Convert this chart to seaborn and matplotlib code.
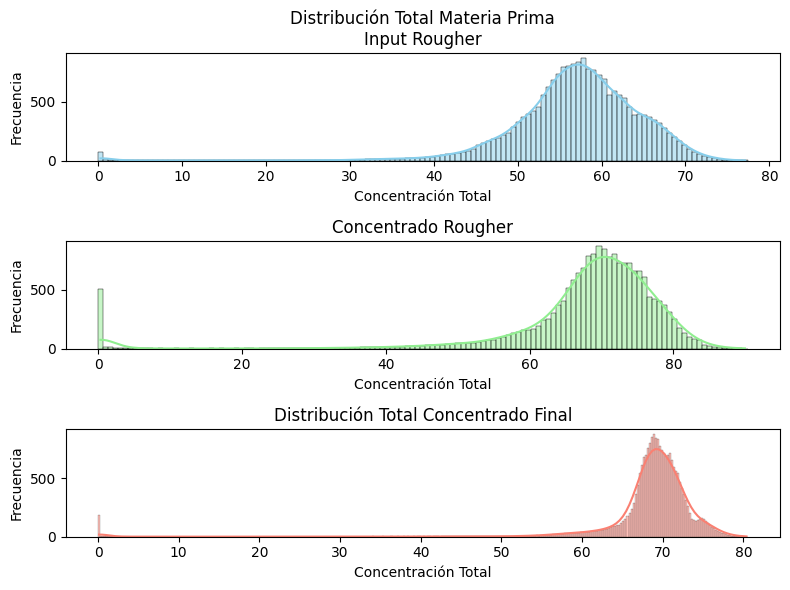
import numpy as np
import pandas as pd
import matplotlib
matplotlib.use("Agg")
import matplotlib.pyplot as plt
import seaborn as sns

# --- DATA (bin counts) ---
# Materia prima (input rougher): bins of 0.6 starting at 0
mp_start, mp_width = 0.0, 0.6
mp_counts = [
    70, 14, 6, 4, 3,
    3, 2, 2, 1, 2, 1, 1, 2, 1, 1, 2, 1, 1, 1, 2, 1, 1, 2, 1, 1,
    1, 2, 1, 2, 1, 1, 2, 1, 2, 1, 2, 2, 1, 2, 3, 2, 2, 3, 2, 3,
    3, 4, 3, 4, 5,
    7, 9, 8, 11, 10, 13, 12, 15, 14, 17, 16, 20, 19, 23, 25, 28, 32,
    38, 45, 52, 58, 65, 72, 85, 98, 130, 150, 170, 185,
    195, 215, 235, 290, 330, 370, 395, 420, 455, 560, 630, 690, 740, 795,
    810, 825, 840, 870, 780, 770, 730,
    697, 560, 590, 560, 530, 460, 385, 395, 385, 370, 350, 320, 280, 235,
    200, 165, 130, 100, 75, 55, 42, 30, 22, 14, 9, 5, 3, 2, 1,
]

# Concentrado rougher: bins of 0.7 starting at 0
cr_start, cr_width = 0.0, 0.7
cr_counts = [
    508, 15, 10, 8, 6,
    4, 3, 3, 2, 2, 2, 1, 2, 1, 1, 2, 1, 1, 2, 1, 1, 1, 2, 1, 2,
    1, 1, 2, 1, 2, 2, 1, 2, 2, 3, 2, 3, 2, 3, 3, 4,
    4, 5, 4, 5, 6, 5, 7, 6, 8, 8, 9, 10, 11, 10, 12, 13, 14, 15, 17, 18,
    20, 21, 23, 25, 27, 29, 32, 35, 38, 42,
    45, 45, 50, 50, 55, 62, 70, 78, 90, 100,
    115, 130, 140, 155, 160, 165, 195, 245, 250, 305,
    375, 405, 515, 585, 645, 685, 790, 805, 872, 853,
    782, 804, 730, 726, 726, 665, 660, 612, 440, 420,
    410, 375, 316, 250, 175, 130, 96, 85, 70, 30,
    22, 16, 12, 8, 5, 3, 2, 1,
]

# Concentrado final: bins of 0.25 starting at 0
cf_start, cf_width = 0.0, 0.25
cf_counts = [
    185, 10, 6, 4, 3, 2, 2, 2,
    1, 1, 0, 1, 1, 1, 0, 1, 1, 0, 1, 1, 1, 0, 1, 1, 0, 1, 1, 1, 0, 1, 1, 0,
    1, 0, 1, 1, 0, 1, 0, 1, 1, 0, 1, 0, 1, 1, 0, 1, 0, 0, 1, 1, 0, 1, 0, 1,
    0, 1, 0, 1, 1, 0, 0, 1, 0, 1, 0, 1, 1, 0, 0, 1, 0, 1, 0, 0, 1, 0, 1, 1,
    0, 1, 0, 1, 0, 1, 1, 0, 1, 0, 1, 1, 0, 1, 0, 1, 1, 0, 1, 1, 0, 1, 1, 0,
    1, 1, 0, 1, 1, 1, 0, 1, 1, 1, 0, 1, 1, 1, 1, 0, 1, 1, 1, 1, 0, 1, 1, 1,
    1, 1, 1, 0, 1, 1, 1, 1, 2, 1, 1, 1, 1, 2, 1, 1, 1, 2, 1, 1, 2, 1, 1, 2,
    1, 2, 1, 1, 2, 1, 2, 2, 1, 2, 1, 2, 2, 1, 2, 2, 2, 1, 2, 2, 2, 2, 3, 2,
    2, 2, 3, 2, 2, 3, 2, 3, 3, 2, 3, 3, 2, 3, 3, 3, 2, 3, 3, 3, 3, 4, 3, 3,
    3, 3, 4, 3, 4, 5, 4, 5, 6, 5, 7, 6, 8, 7, 9, 8, 10, 11, 10, 12,
    13, 14, 15, 16, 18, 19, 21, 22, 24, 25, 27, 28,
    30, 28, 32, 30, 33, 35, 34, 38, 36, 40, 42, 44, 45, 48, 50, 52,
    55, 58, 60, 62, 68, 72, 80, 88, 92, 98, 102, 115, 130, 155, 180, 205,
    240, 290, 360, 440, 540, 610, 680, 700, 760, 800, 850, 872, 840, 835,
    770, 740, 711, 690, 700, 711, 650, 596, 560, 540, 470, 415, 360, 313,
    260, 200, 150, 140, 135, 140, 150, 160, 150, 135, 115, 100, 85, 72,
    60, 50, 42, 35, 28, 22, 17, 13, 10, 8, 6, 4, 3, 2, 1, 1,
]

titles = [
    "Distribución Total Materia Prima\nInput Rougher",
    "Concentrado Rougher",
    "Distribución Total Concentrado Final",
]
colors = ["skyblue", "lightgreen", "salmon"]


def expand(start, width, counts):
    # rebuild observations from the bin counts
    n = len(counts)
    centers = start + width * (np.arange(n) + 0.5)
    edges = start + width * np.arange(n + 1)
    return np.repeat(centers, counts), edges


def main():
    panels = [
        expand(mp_start, mp_width, mp_counts),
        expand(cr_start, cr_width, cr_counts),
        expand(cf_start, cf_width, cf_counts),
    ]

    fig, axes = plt.subplots(3, 1, figsize=(8, 6), sharey=True)

    for ax, (values, edges), title, color in zip(axes, panels, titles, colors):
        df = pd.DataFrame({"total": values})
        sns.histplot(data=df, x="total", bins=edges, kde=True, color=color,
                     edgecolor="black", ax=ax)
        ax.set_title(title)
        ax.set_xlabel("Concentración Total")
        ax.set_ylabel("Frecuencia")

    plt.tight_layout()
    plt.savefig("out.png", dpi=100, bbox_inches="tight")


if __name__ == "__main__":
    main()
